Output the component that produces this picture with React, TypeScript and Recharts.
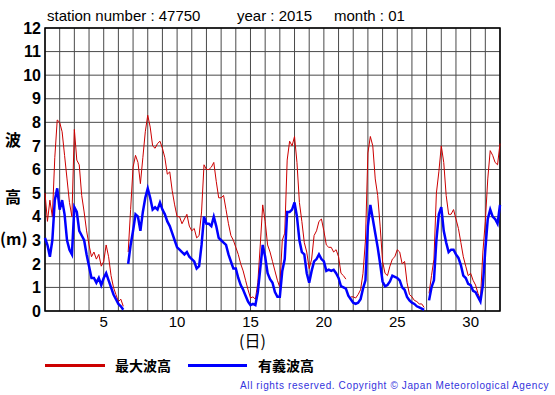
import { CartesianGrid, Line, LineChart, ReferenceArea, XAxis, YAxis } from "recharts";

// 4-hourly samples, Jan 1 00h .. Feb 1 00h (day 1.0 .. 32.0)
const STEP_HOURS = 4;

// max wave height (m), 6 values per day
const maxWave: (number | null)[] = [
  5.0, 3.8, 4.7, 4.0, 6.5, 8.1, // 1
  8.0, 7.6, 6.6, 5.6, 4.6, 4.0, // 2
  7.7, 6.4, 6.2, 4.9, 4.2, 3.4, // 3
  2.8, 2.3, 2.5, 2.2, 2.4, 1.9, // 4
  2.1, 2.8, 2.3, 1.5, 1.0, 0.7, // 5
  0.4, 0.5, 0.2, null, 2.5, 4.3, // 6
  6.1, 6.6, 6.3, 5.4, 6.5, 7.6, // 7
  8.3, 7.8, 7.0, 6.9, 7.1, 7.2, // 8
  6.9, 6.5, 5.8, 5.9, 5.1, 4.5, // 9
  4.0, 4.0, 3.7, 3.9, 4.1, 3.6, // 10
  3.4, 3.5, 3.1, 3.2, 4.2, 6.2, // 11
  6.0, 6.0, 6.1, 6.3, 5.5, 4.8, // 12
  4.8, 4.9, 4.3, 3.7, 3.2, 3.0, // 13
  2.7, 2.4, 2.0, 1.7, 1.3, 0.9, // 14
  0.55, 0.6, 0.5, 1.2, 2.8, 4.5, // 15
  3.8, 2.8, 2.5, 2.1, 1.7, 1.3, // 16
  1.0, 3.0, 3.3, 6.4, 7.2, 7.0, // 17
  7.4, 6.3, 4.6, 3.8, 2.9, 2.5, // 18
  1.8, 2.2, 3.2, 3.4, 3.8, 3.9, // 19
  3.4, 2.8, 2.7, 2.7, 2.5, 2.6, // 20
  2.3, 1.6, 1.5, 1.35, null, 0.6, // 21
  0.6, 0.55, 0.7, 0.9, 1.6, 3.0, // 22
  6.7, 7.4, 7.0, 5.6, 4.9, 3.6, // 23
  2.1, 1.6, 1.5, 1.9, 2.2, 2.3, // 24
  2.6, 2.5, 2.0, 2.1, 1.2, 0.7, // 25
  0.6, 0.45, 0.4, 0.3, 0.3, 0.15, // 26
  null, 0.75, 1.5, 2.2, 5.0, 5.9, // 27
  7.0, 6.3, 4.9, 4.1, 4.1, 4.3, // 28
  3.9, 3.5, 2.9, 2.3, 1.9, 1.5, // 29
  1.6, 1.3, 1.1, 0.75, 0.5, 2.5, // 30
  3.8, 5.6, 6.8, 6.6, 6.3, 6.2, // 31
  7.1,
];

// significant wave height (m)
const sigWave: (number | null)[] = [
  3.1, 2.8, 2.3, 3.0, 4.7, 5.2, // 1
  4.3, 4.7, 4.1, 3.0, 2.6, 2.4, // 2
  4.4, 4.2, 3.4, 3.2, 3.0, 2.4, // 3
  1.9, 1.4, 1.4, 1.2, 1.4, 1.1, // 4
  1.4, 1.6, 1.3, 1.0, 0.7, 0.5, // 5
  0.3, 0.2, 0.05, null, 2.0, 2.8, // 6
  3.4, 4.1, 4.0, 3.4, 4.2, 4.8, // 7
  5.2, 4.8, 4.3, 4.4, 4.3, 4.6, // 8
  4.3, 4.1, 3.8, 3.6, 3.3, 3.0, // 9
  2.7, 2.6, 2.5, 2.4, 2.5, 2.3, // 10
  2.2, 2.1, 1.8, 1.9, 2.8, 4.0, // 11
  3.7, 3.7, 3.6, 4.0, 3.6, 3.1, // 12
  3.0, 2.9, 2.8, 2.4, 2.1, 1.8, // 13
  1.8, 1.4, 1.1, 0.9, 0.65, 0.4, // 14
  0.25, 0.3, 0.25, 0.8, 1.8, 2.8, // 15
  2.3, 1.6, 1.35, 1.2, 0.8, 0.6, // 16
  0.6, 1.7, 2.2, 4.2, 4.2, 4.3, // 17
  4.6, 4.0, 3.0, 2.5, 2.4, 1.6, // 18
  1.2, 1.7, 2.1, 2.2, 2.4, 2.2, // 19
  2.1, 1.7, 1.75, 1.7, 1.75, 1.6, // 20
  1.4, 1.05, 1.0, 0.95, 0.65, 0.5, // 21
  0.35, 0.3, 0.35, 0.5, 0.95, 1.3, // 22
  3.6, 4.5, 3.9, 3.3, 2.7, 2.0, // 23
  1.25, 1.05, 1.1, 1.25, 1.5, 1.45, // 24
  1.4, 1.3, 1.0, 0.9, 0.6, 0.45, // 25
  0.35, 0.3, 0.2, 0.15, 0.1, 0.05, // 26
  null, 0.45, 1.0, 1.3, 3.0, 4.1, // 27
  4.4, 3.4, 2.9, 2.5, 2.6, 2.6, // 28
  2.4, 2.25, 1.95, 1.5, 1.4, 1.15, // 29
  1.1, 0.85, 0.8, 0.6, 0.4, 1.1, // 30
  2.6, 3.9, 4.3, 4.0, 3.9, 3.7, // 31
  4.5,
];

const dayTicks = Array.from({ length: 32 }, (_, i) => i + 1);
const heightTicks = Array.from({ length: 13 }, (_, i) => i);

const rows = maxWave.map((v, i) => ({
  day: 1 + (i * STEP_HOURS) / 24,
  max: v,
  sig: sigWave[i],
}));

const FONT = "'Liberation Sans', Arial, sans-serif";
const CJK = "'Noto Sans CJK JP', sans-serif";

export default function App() {
  return (
    <div style={{ position: "relative", width: 555, height: 395, background: "#fff", fontFamily: FONT }}>
      <style>{"body{margin:0}"}</style>
      <LineChart width={555} height={395} data={rows} margin={{ top: 28, right: 55, bottom: 60, left: 5 }}>
        <CartesianGrid stroke="#4a4a4a" strokeWidth={1} />
        <XAxis
          dataKey="day"
          type="number"
          domain={[1, 32]}
          ticks={dayTicks}
          interval={0}
          tickFormatter={(v) => (v % 5 === 0 && v < 32 ? String(v) : "")}
          tickLine={false}
          axisLine={false}
          tickSize={3}
          tickMargin={2}
          height={24}
          tick={{ fontSize: 15, fill: "#000", fontFamily: FONT }}
        />
        <YAxis
          type="number"
          domain={[0, 12]}
          ticks={heightTicks}
          interval={0}
          tickLine={false}
          axisLine={false}
          tickSize={2}
          tickMargin={2}
          width={40}
          tick={{ fontSize: 16, fill: "#000", fontWeight: "bold", fontFamily: FONT }}
        />
        <ReferenceArea x1={1} x2={32} y1={0} y2={12} fill="none" stroke="#000" strokeWidth={1.5} ifOverflow="visible" />
        <Line dataKey="max" stroke="#cc0000" strokeWidth={1} dot={false} isAnimationActive={false} connectNulls={false} />
        <Line dataKey="sig" stroke="#0000ff" strokeWidth={2.5} dot={false} isAnimationActive={false} connectNulls={false} />
      </LineChart>

      <div style={{ position: "absolute", top: 7, left: 47, fontSize: 15, whiteSpace: "pre" }}>station number : 47750</div>
      <div style={{ position: "absolute", top: 7, left: 237, fontSize: 15, whiteSpace: "pre" }}>year : 2015</div>
      <div style={{ position: "absolute", top: 7, left: 334, fontSize: 15, whiteSpace: "pre" }}>month : 01</div>

      <div style={{ position: "absolute", top: 129, left: 5, fontSize: 16, fontWeight: "bold", fontFamily: CJK, lineHeight: "20px" }}>波</div>
      <div style={{ position: "absolute", top: 186, left: 5, fontSize: 16, fontWeight: "bold", fontFamily: CJK, lineHeight: "20px" }}>高</div>
      <div style={{ position: "absolute", top: 228, left: 0, fontSize: 16, fontWeight: "bold", fontFamily: CJK, lineHeight: "20px" }}>(m)</div>

      <div style={{ position: "absolute", top: 332, left: 239, fontSize: 16, fontFamily: CJK, lineHeight: "16px" }}>(日)</div>

      <div style={{ position: "absolute", top: 364, left: 45, width: 60, height: 3, background: "#cc0000" }} />
      <div style={{ position: "absolute", top: 356, left: 115, fontSize: 14, fontWeight: "bold", fontFamily: CJK, lineHeight: "18px" }}>最大波高</div>
      <div style={{ position: "absolute", top: 364, left: 188, width: 59, height: 3, background: "#0000ff" }} />
      <div style={{ position: "absolute", top: 356, left: 258, fontSize: 14, fontWeight: "bold", fontFamily: CJK, lineHeight: "18px" }}>有義波高</div>

      <div style={{ position: "absolute", top: 380, left: 240, fontSize: 10, color: "#3333dd", letterSpacing: 0.62, whiteSpace: "pre", lineHeight: "12px" }}>
        All rights reserved. Copyright © Japan Meteorological Agency
      </div>
    </div>
  );
}
